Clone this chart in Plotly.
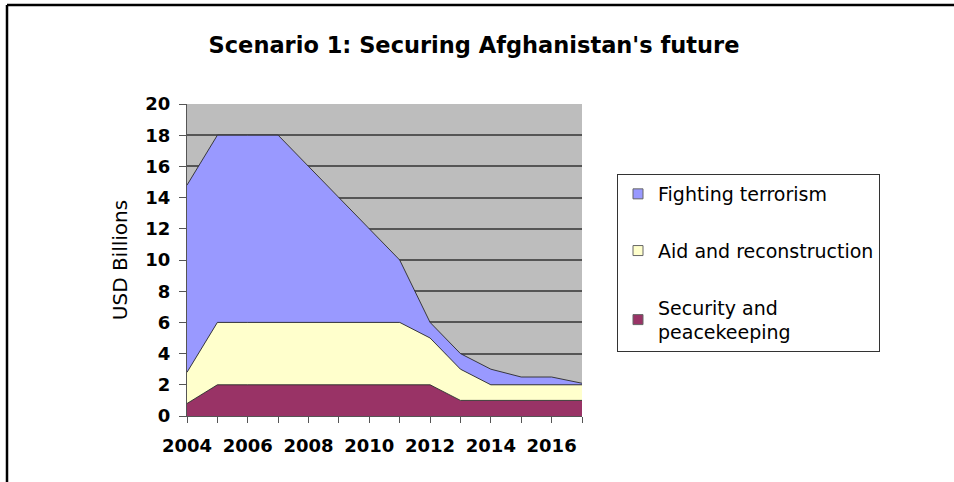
import plotly.graph_objects as go

# Spending scenario, USD billions per year (stacked areas)
years = list(range(2004, 2018))
security = [0.8, 2, 2, 2, 2, 2, 2, 2, 2, 1, 1, 1, 1, 1]
aid = [2.0, 4, 4, 4, 4, 4, 4, 4, 3, 2, 1, 1, 1, 1]
terrorism = [12.0, 12, 12, 12, 10, 8, 6, 4, 1, 1, 1, 0.5, 0.5, 0.1]

series_names = ["Security and<br>peacekeeping", "Aid and reconstruction", "Fighting terrorism"]
series_colors = ["#993366", "#FFFFCC", "#9999FF"]

y_ticks = list(range(0, 21, 2))
x_tick_labels = [str(y) if y % 2 == 0 else "" for y in years]

W, H = 954, 482
ML, MR, MT, MB = 187, 372, 104, 66
PW, PH = W - ML - MR, H - MT - MB

FONT = "DejaVu Sans"


def px_to_paper(px, py):
    return (px - ML) / PW, (H - MB - py) / PH


fig = go.Figure()

for name, vals, col in zip(series_names, [security, aid, terrorism], series_colors):
    fig.add_trace(go.Scatter(
        x=years, y=vals, mode="lines", stackgroup="one",
        line=dict(color="#2a2a2a", width=0.9),
        fillcolor=col, name=name, showlegend=False, hoverinfo="x+y+name",
    ))

# legend entries with square swatches, top to bottom
for i, (name, col) in enumerate(zip(series_names[::-1], series_colors[::-1])):
    fig.add_trace(go.Scatter(
        x=[None], y=[None], mode="markers", name=name,
        legendgroup=f"g{i}",
        marker=dict(symbol="square", size=10, color=col,
                    line=dict(color="#666666", width=1)),
    ))

# outer frame: top and left edges
x0, y0 = px_to_paper(7, 5)
x1, y1 = px_to_paper(W + 5, H + 5)
fig.add_shape(type="line", xref="paper", yref="paper", x0=x0, y0=y0, x1=x1, y1=y0,
              line=dict(color="black", width=2.5))
fig.add_shape(type="line", xref="paper", yref="paper", x0=x0, y0=y0, x1=x0, y1=y1,
              line=dict(color="black", width=2.5))

lx, ly = px_to_paper(617, 174)

fig.update_layout(
    width=W, height=H,
    margin=dict(l=ML, r=MR, t=MT, b=MB, autoexpand=False),
    paper_bgcolor="white",
    plot_bgcolor="#BDBDBD",
    title=dict(
        text="Scenario 1: Securing Afghanistan's future",
        x=474 / W, xanchor="center", y=1 - 45 / H, yanchor="middle",
        font=dict(family=FONT, size=22.5, color="black", weight="bold"),
    ),
    xaxis=dict(
        range=[2004, 2017], tickmode="array", tickvals=years, ticktext=x_tick_labels,
        showgrid=False, zeroline=False,
        showline=True, linecolor="#555555", linewidth=1,
        ticks="outside", ticklen=6, tickcolor="#555555", ticklabelstandoff=7,
        tickfont=dict(family=FONT, size=18, color="black", weight="bold"),
    ),
    yaxis=dict(
        range=[0, 20], tickmode="array", tickvals=y_ticks,
        showgrid=True, gridcolor="#555555", gridwidth=1.5, zeroline=False,
        showline=True, linecolor="#555555", linewidth=1,
        ticks="outside", ticklen=7, tickcolor="#555555", ticklabelstandoff=5,
        tickfont=dict(family=FONT, size=18, color="black", weight="bold"),
        title=dict(text="USD Billions", standoff=12,
                   font=dict(family=FONT, size=20, color="black")),
    ),
    legend=dict(
        x=lx, y=ly, xanchor="left", yanchor="top",
        bordercolor="#333333", borderwidth=1, bgcolor="white",
        font=dict(family=FONT, size=19, color="black"),
        traceorder="grouped", tracegroupgap=29,
        itemclick=False, itemdoubleclick=False,
    ),
    showlegend=True,
)

fig.write_html("out.html")
